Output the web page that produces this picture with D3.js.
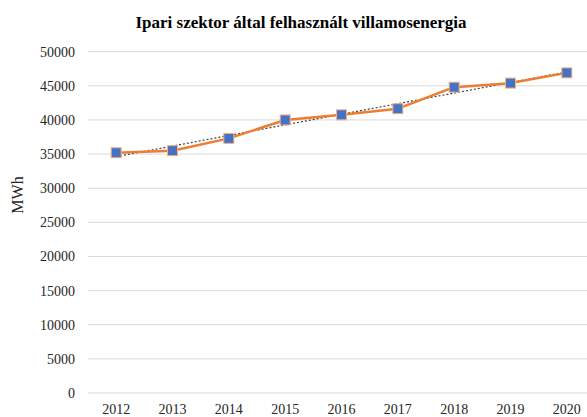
<!DOCTYPE html>
<html>
<head>
<meta charset="utf-8">
<script src="https://cdn.jsdelivr.net/npm/d3@7"></script>
<style>
  body { margin: 0; background: #fff; }
  svg { display: block; }
</style>
</head>
<body>
<svg width="587" height="417"></svg>
<script>
  const years = ['2012', '2013', '2014', '2015', '2016', '2017', '2018', '2019', '2020'];
  const mwh = [35200, 35500, 37300, 40000, 40750, 41650, 44800, 45400, 46900];
  const yTicks = [0, 5000, 10000, 15000, 20000, 25000, 30000, 35000, 40000, 45000, 50000];

  const serif = "'Liberation Serif', 'DejaVu Serif', serif";

  const svg = d3.select('svg')
    .attr('font-family', serif);

  const x = d3.scaleBand().domain(years).range([88, 595]);
  const y = d3.scaleLinear().domain([0, 50000]).range([393, 51.7]);
  const cx = d => x(d) + x.bandwidth() / 2;

  // gridlines
  svg.append('g')
    .selectAll('line').data(yTicks)
    .enter().append('line')
    .attr('x1', 88).attr('x2', 595)
    .attr('y1', d => y(d)).attr('y2', d => y(d))
    .attr('stroke', '#d9d9d9')
    .attr('stroke-width', 1);

  // y tick labels
  svg.append('g')
    .selectAll('text').data(yTicks)
    .enter().append('text')
    .attr('x', 75)
    .attr('y', d => y(d))
    .attr('dy', '0.35em')
    .attr('text-anchor', 'end')
    .attr('font-family', serif)
    .attr('font-size', 14)
    .attr('fill', '#262626')
    .text(d => d);

  // x tick labels
  svg.append('g')
    .selectAll('text').data(years)
    .enter().append('text')
    .attr('x', cx)
    .attr('y', 414)
    .attr('text-anchor', 'middle')
    .attr('font-family', serif)
    .attr('font-size', 14)
    .attr('fill', '#262626')
    .text(d => d);

  // linear trendline (least squares over the series)
  const n = mwh.length;
  const mx = d3.mean(mwh, (d, i) => i);
  const my = d3.mean(mwh);
  const slope = d3.sum(mwh, (d, i) => (i - mx) * (d - my)) / d3.sum(mwh, (d, i) => (i - mx) * (i - mx));
  const icpt = my - slope * mx;

  svg.append('line')
    .attr('x1', cx(years[0])).attr('y1', y(icpt))
    .attr('x2', cx(years[n - 1])).attr('y2', y(icpt + slope * (n - 1)))
    .attr('stroke', '#404040')
    .attr('stroke-width', 1.2)
    .attr('stroke-dasharray', '2,2');

  // series line
  const line = d3.line()
    .x((d, i) => cx(years[i]))
    .y(d => y(d));

  svg.append('path')
    .datum(mwh)
    .attr('d', line)
    .attr('fill', 'none')
    .attr('stroke', '#ed7d31')
    .attr('stroke-width', 2.5)
    .attr('stroke-linejoin', 'round');

  // markers
  svg.append('g')
    .selectAll('rect').data(mwh)
    .enter().append('rect')
    .attr('x', (d, i) => cx(years[i]) - 5)
    .attr('y', d => y(d) - 5)
    .attr('width', 10)
    .attr('height', 10)
    .attr('fill', '#4472c4')
    .attr('stroke', '#f4b183')
    .attr('stroke-width', 1);

  svg.append('text')
    .attr('x', 301)
    .attr('y', 28)
    .attr('text-anchor', 'middle')
    .attr('font-family', serif)
    .attr('font-size', 17)
    .attr('font-weight', 'bold')
    .attr('fill', '#000')
    .text('Ipari szektor által felhasznált villamosenergia');

  svg.append('text')
    .attr('transform', 'translate(23,195) rotate(-90)')
    .attr('text-anchor', 'middle')
    .attr('font-family', serif)
    .attr('font-size', 16)
    .attr('fill', '#262626')
    .text('MWh');
</script>
</body>
</html>
